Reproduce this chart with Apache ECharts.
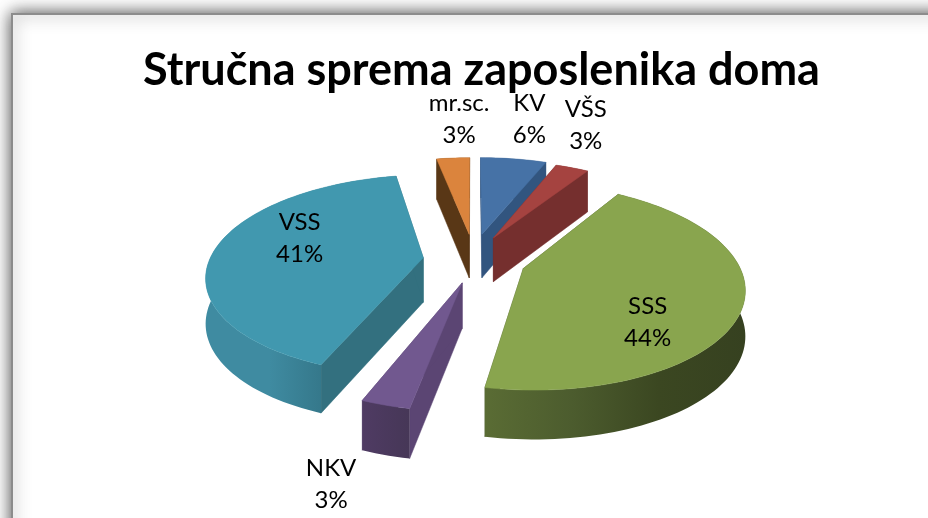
<!DOCTYPE html>
<html><head><meta charset="utf-8">
<style>html,body{margin:0;padding:0;background:#fff}#c{width:928px;height:518px}</style>
<script src="https://cdn.jsdelivr.net/npm/echarts@6/dist/echarts.min.js"></script>
</head><body><div id="c"></div>
<script>
const categories = ['KV','VŠS','SSS','NKV','VSS','mr.sc.'];
const values = [6,3,44,3,41,3];
const chartTitle = 'Stručna sprema zaposlenika doma';

const topColors  = ['#4672a6','#a54340','#89a54e','#71588f','#4198af','#db843d'];
const sideColors = ['#32557f','#752f2e','#4a5a2a','#5b4573','#33707f','#593716'];
const arcStops = [
  ['#32557f','#32557f'],
  ['#752f2e','#752f2e'],
  ['#5a6c34','#4c5c2e','#3b4721','#364120'],
  ['#4f3b63','#463757'],
  ['#3f8ba1','#3f8ba1','#337486','#2f6c7d'],
  ['#593716','#593716']
];
const explode = [0.26,0.24,0.26,0.23,0.245,0.25];
const shiftU = [0,-0.005,-0.005,0.02,0.015,0.01];
const shiftV = [0,0,0.01,0.025,0.02,-0.005];
const labelNudge = [[10,-26],[-1,-29],[-8,30],[-33,45],[6,-14],[9,-25]];
const labelRadius = [1.22,1.22,0.62,1.22,0.62,1.22];

const CX=472, CY=258, RX=213, RY=97, K=0.17, H=44.5;
const total = values.reduce((a,b)=>a+b,0);
function project(U,V){const p=1/(1-K*V);return [CX+RX*U*p, CY+RY*V*p, H*Math.sqrt(p)];}
const tops=p=>[p[0],p[1]], bots=p=>[p[0],p[1]+p[2]];

function renderItem(params, api){
  const i=params.dataIndex;
  let before=0; for(let j=0;j<i;j++) before+=values[j];
  const a0=before/total*2*Math.PI, a1=(before+api.value(0))/total*2*Math.PI, m=(a0+a1)/2;
  const dx=Math.sin(m)*explode[i]+shiftU[i], dy=-Math.cos(m)*explode[i]+shiftV[i];
  const apex=project(dx,dy);
  const arc=[]; const n=Math.max(6,Math.ceil((a1-a0)/0.03));
  for(let s=0;s<=n;s++){const a=a0+(a1-a0)*s/n;arc.push(project(dx+Math.sin(a),dy-Math.cos(a)));}
  const z=Math.round(-Math.cos(m)*100)+200;
  const poly=(pts,fill,zz)=>({type:'polygon',shape:{points:pts},z2:z*10+zz,style:{fill:fill,stroke:typeof fill==='string'?fill:null,lineWidth:0.5}});
  const wall=(e)=>[tops(apex),tops(e),bots(e),bots(apex)];
  const stops=arcStops[i];
  const grad={type:'linear',x:0,y:0,x2:1,y2:0,colorStops:stops.map((c,k)=>({offset:k/(stops.length-1),color:c}))};
  const ch=[
    poly(wall(arc[0]),sideColors[i],1),
    poly(wall(arc[n]),sideColors[i],2),
    poly(arc.map(tops).concat(arc.slice().reverse().map(bots)),grad,3),
    poly([tops(apex)].concat(arc.map(tops)),topColors[i],4)
  ];
  const lr=labelRadius[i], lp=project(dx+Math.sin(m)*lr,dy-Math.cos(m)*lr);
  ch.push({type:'text',z2:30000,style:{x:lp[0]+labelNudge[i][0],y:lp[1]+labelNudge[i][1],
    text:categories[i]+'\n'+Math.round(api.value(0)/total*100)+'%',align:'center',verticalAlign:'middle',
    font:'24px Lato',lineHeight:32,fill:'#000'}});
  return {type:'group',children:ch};
}
const chart=echarts.init(document.getElementById('c'),null,{renderer:'canvas'});
chart.setOption({
  animation:false,
  backgroundColor:'#fff',
  title:{text:chartTitle,left:476.5,top:37,textAlign:'center',textStyle:{fontFamily:'Lato',fontWeight:'bold',fontSize:45,color:'#000',lineHeight:56}},
  graphic:[{type:'rect',z:-1,silent:true,shape:{x:12,y:14,width:1000,height:600},
    style:{fill:'#fff',stroke:'#8c8c8c',lineWidth:2,shadowBlur:16,shadowColor:'rgba(0,0,0,0.7)'}}],
  series:[{type:'custom',coordinateSystem:'none',renderItem:renderItem,data:values.map(v=>[v]),clip:false}]
});
</script></body></html>
